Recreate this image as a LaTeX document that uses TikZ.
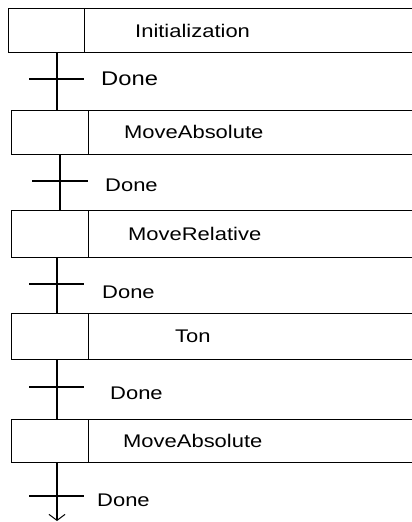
\documentclass[tikz,border=0pt]{standalone}
\usepackage{fontspec}
\setmainfont{Liberation Sans}[FakeStretch=1.2]
\usetikzlibrary{arrows.meta}
\begin{document}
\begin{tikzpicture}[x=1pt,y=-1pt,
  cell/.style={draw,line width=1.1pt,inner sep=0pt,anchor=north west},
  lbl/.style={inner sep=0pt,anchor=west,font=\fontsize{18.3}{18.3}\selectfont},
  wire/.style={line width=1.1pt},
  bar/.style={line width=1.1pt}]
\useasboundingbox (0,0) rectangle (412,522);
\clip (0,0) rectangle (412,522);
% step 1
\node[cell,minimum width=76pt,minimum height=44pt] (s1) at (8,8) {};
\node[cell,minimum width=340pt,minimum height=44pt] (r1) at (84,8) {};
\node[lbl] (t1) at (135,31) {Initialization};
% step 2
\node[cell,minimum width=77pt,minimum height=44pt] (s2) at (11,110) {};
\node[cell,minimum width=340pt,minimum height=44pt] (r2) at (88,110) {};
\node[lbl] (t2) at (124,132) {MoveAbsolute};
% step 3
\node[cell,minimum width=77pt,minimum height=47pt] (s3) at (11,210) {};
\node[cell,minimum width=340pt,minimum height=47pt] (r3) at (88,210) {};
\node[lbl] (t3) at (128,234) {MoveRelative};
% step 4
\node[cell,minimum width=77pt,minimum height=46pt] (s4) at (11,313) {};
\node[cell,minimum width=340pt,minimum height=46pt] (r4) at (88,313) {};
\node[lbl] (t4) at (175,336) {Ton};
% step 5
\node[cell,minimum width=77pt,minimum height=43pt] (s5) at (11,419) {};
\node[cell,minimum width=340pt,minimum height=43pt] (r5) at (88,419) {};
\node[lbl] (t5) at (123,441) {MoveAbsolute};
% transitions
\coordinate (a1) at (57,52); \coordinate (b1) at (57,110);
\coordinate (a2) at (60,154); \coordinate (b2) at (60,210);
\coordinate (a3) at (57,257); \coordinate (b3) at (57,313);
\coordinate (a4) at (57,359); \coordinate (b4) at (57,419);
\coordinate (a5) at (57,462); \coordinate (b5) at (57,521);
\draw[wire] (a1) -- (b1);
\draw[wire] (a2) -- (b2);
\draw[wire] (a3) -- (b3);
\draw[wire] (a4) -- (b4);
\draw[wire,-{Straight Barb[length=6pt,width=16pt,line width=1pt]}] (a5) -- (b5);
\draw[bar] (29,79) -- (84,79);
\draw[bar] (32,181) -- (88,181);
\draw[bar] (29,284) -- (84,284);
\draw[bar] (29,387) -- (84,387);
\draw[bar] (29,496) -- (84,496);
\node[lbl,font=\fontsize{19.8}{19.8}\selectfont] (d1) at (101,79) {Done};
\node[lbl] (d2) at (105,185) {Done};
\node[lbl] (d3) at (102,292) {Done};
\node[lbl] (d4) at (110,393) {Done};
\node[lbl] (d5) at (97,500) {Done};
\end{tikzpicture}
\end{document}
